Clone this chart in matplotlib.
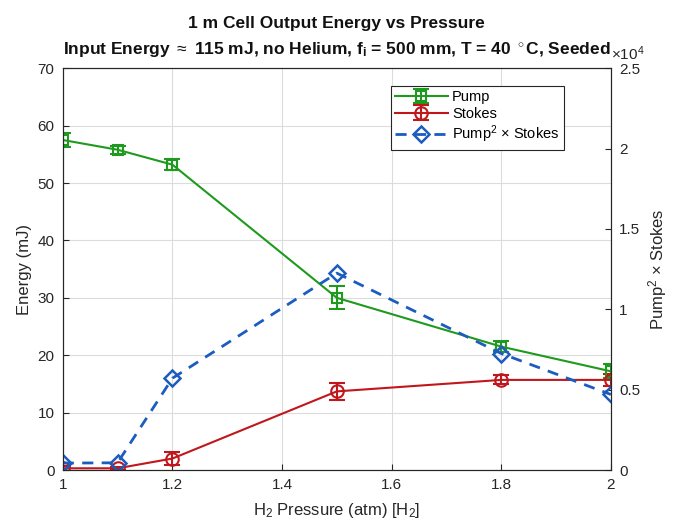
import matplotlib.pyplot as plt
from matplotlib.ticker import FuncFormatter

plt.rcParams['font.family'] = ['Liberation Sans', 'DejaVu Sans']
plt.rcParams['mathtext.fontset'] = 'custom'
plt.rcParams['mathtext.rm'] = 'Liberation Sans'
plt.rcParams['mathtext.it'] = 'Liberation Sans:italic'
plt.rcParams['mathtext.bf'] = 'Liberation Sans:bold'

# Data
pressure = [1.0, 1.1, 1.2, 1.5, 1.8, 2.0]
pump = [57.5, 55.8, 53.2, 30.0, 21.5, 17.2]
pump_err = [1.2, 0.7, 1.0, 2.0, 1.0, 1.2]
stokes = [0.3, 0.3, 2.0, 13.7, 15.7, 15.7]
stokes_err = [0.4, 0.3, 1.2, 1.5, 0.8, 1.0]
product = [430, 450, 5710, 12250, 7250, 4700]

green = '#1e9a1e'
red = '#c0171d'
blue = '#1c5cbf'
dark = '#262626'

fig = plt.figure(figsize=(6.75, 5.29), dpi=100)
ax = fig.add_axes([0.093, 0.1115, 0.812, 0.7595])
ax2 = ax.twinx()

h1 = ax.errorbar(pressure, pump, yerr=pump_err, color=green, marker='s', mfc='none',
                 ms=7, mew=1.5, lw=1.5, capsize=6, elinewidth=1.5, capthick=1.5,
                 label='Pump')
h2 = ax.errorbar(pressure, stokes, yerr=stokes_err, color=red, marker='o', mfc='none',
                 ms=9, mew=1.5, lw=1.5, capsize=6, elinewidth=1.5, capthick=1.5,
                 label='Stokes')
h3, = ax2.plot(pressure, product, color=blue, ls='--', dashes=(4, 3), marker='D',
               mfc='none', ms=8, mew=1.8, lw=2, label='Pump$^2$ × Stokes')

ax.set_xlim(1, 2)
ax.set_ylim(0, 70)
ax.set_xticks([1, 1.2, 1.4, 1.6, 1.8, 2])
ax.set_xticklabels(['1', '1.2', '1.4', '1.6', '1.8', '2'])
ax.set_yticks(range(0, 71, 10))
ax2.set_ylim(0, 25000)
ax2.set_yticks([0, 5000, 10000, 15000, 20000, 25000])
ax2.yaxis.set_major_formatter(FuncFormatter(lambda v, p: '%g' % (v / 1e4)))
ax2.text(1.0, 1.012, '×10$^4$', transform=ax.transAxes, fontsize=11,
         color=dark, ha='left', va='bottom')

ax.grid(True, color='#dcdcdc', lw=0.8)
ax.set_axisbelow(True)

for a in (ax, ax2):
    a.tick_params(labelsize=11, colors=dark, direction='in', length=4, pad=6)
    for s in a.spines.values():
        s.set_color(dark)

ax.set_xlabel('H$_2$ Pressure (atm) [H$_2$]', fontsize=12, color=dark, labelpad=6)
ax.set_ylabel('Energy (mJ)', fontsize=12, color=dark)
ax2.set_ylabel('Pump$^2$ × Stokes', fontsize=12, color=dark)

ax.set_title('1 m Cell Output Energy vs Pressure\n'
             'Input Energy $\\approx$ 115 mJ, no Helium, f$_\\mathregular{i}$ = 500 mm, '
             'T = 40 $^\\circ$C, Seeded',
             fontsize=12.5, fontweight='bold', color='#111111', pad=10,
             linespacing=1.7)

leg = ax2.legend([h1, h2, h3], ['Pump', 'Stokes', 'Pump$^2$ × Stokes'],
                 loc='upper left', bbox_to_anchor=(0.585, 0.975), fontsize=10.5,
                 fancybox=False, edgecolor=dark, framealpha=1,
                 handlelength=3.6, handletextpad=0.3, borderpad=0.3,
                 labelspacing=0.2)
leg.get_frame().set_linewidth(0.8)

plt.savefig('out.png', dpi=100)
